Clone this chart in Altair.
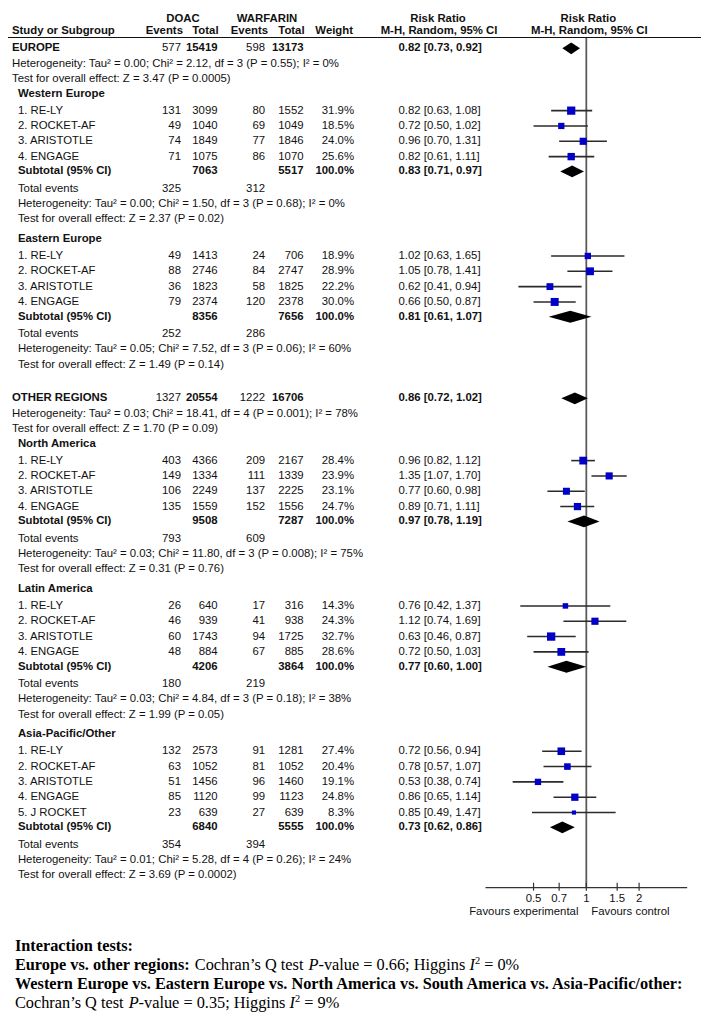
import altair as alt
import pandas as pd

# ---------------- data ----------------
names4 = ["1. RE-LY", "2. ROCKET-AF", "3. ARISTOTLE", "4. ENGAGE"]
names5 = ["1. RE-LY", "2. ROCKET-AF", "3. ARISTOTLE", "4. ENGAGE", "5. J ROCKET"]

# Western Europe
we_doac_ev = [131, 49, 74, 71]
we_doac_n = [3099, 1040, 1849, 1075]
we_warf_ev = [80, 69, 77, 86]
we_warf_n = [1552, 1049, 1846, 1070]
we_weight = [31.9, 18.5, 24.0, 25.6]
we_rr = [0.82, 0.72, 0.96, 0.82]
we_lo = [0.63, 0.50, 0.70, 0.61]
we_hi = [1.08, 1.02, 1.31, 1.11]
we_sub = [7063, 5517, 0.83, 0.71, 0.97]
we_events = [325, 312]
we_het = ["0.00", "1.50", 3, "0.68", 0]
we_z = ["2.37", "0.02"]

# Eastern Europe
ee_doac_ev = [49, 88, 36, 79]
ee_doac_n = [1413, 2746, 1823, 2374]
ee_warf_ev = [24, 84, 58, 120]
ee_warf_n = [706, 2747, 1825, 2378]
ee_weight = [18.9, 28.9, 22.2, 30.0]
ee_rr = [1.02, 1.05, 0.62, 0.66]
ee_lo = [0.63, 0.78, 0.41, 0.50]
ee_hi = [1.65, 1.41, 0.94, 0.87]
ee_sub = [8356, 7656, 0.81, 0.61, 1.07]
ee_events = [252, 286]
ee_het = ["0.05", "7.52", 3, "0.06", 60]
ee_z = ["1.49", "0.14"]

# North America
na_doac_ev = [403, 149, 106, 135]
na_doac_n = [4366, 1334, 2249, 1559]
na_warf_ev = [209, 111, 137, 152]
na_warf_n = [2167, 1339, 2225, 1556]
na_weight = [28.4, 23.9, 23.1, 24.7]
na_rr = [0.96, 1.35, 0.77, 0.89]
na_lo = [0.82, 1.07, 0.60, 0.71]
na_hi = [1.12, 1.70, 0.98, 1.11]
na_sub = [9508, 7287, 0.97, 0.78, 1.19]
na_events = [793, 609]
na_het = ["0.03", "11.80", 3, "0.008", 75]
na_z = ["0.31", "0.76"]

# Latin America
la_doac_ev = [26, 46, 60, 48]
la_doac_n = [640, 939, 1743, 884]
la_warf_ev = [17, 41, 94, 67]
la_warf_n = [316, 938, 1725, 885]
la_weight = [14.3, 24.3, 32.7, 28.6]
la_rr = [0.76, 1.12, 0.63, 0.72]
la_lo = [0.42, 0.74, 0.46, 0.50]
la_hi = [1.37, 1.69, 0.87, 1.03]
la_sub = [4206, 3864, 0.77, 0.60, 1.00]
la_events = [180, 219]
la_het = ["0.03", "4.84", 3, "0.18", 38]
la_z = ["1.99", "0.05"]

# Asia-Pacific/Other
ap_doac_ev = [132, 63, 51, 85, 23]
ap_doac_n = [2573, 1052, 1456, 1120, 639]
ap_warf_ev = [91, 81, 96, 99, 27]
ap_warf_n = [1281, 1052, 1460, 1123, 639]
ap_weight = [27.4, 20.4, 19.1, 24.8, 8.3]
ap_rr = [0.72, 0.78, 0.53, 0.86, 0.85]
ap_lo = [0.56, 0.57, 0.38, 0.65, 0.49]
ap_hi = [0.94, 1.07, 0.74, 1.14, 1.47]
ap_sub = [6840, 5555, 0.73, 0.62, 0.86]
ap_events = [354, 394]
ap_het = ["0.01", "5.28", 4, "0.26", 24]
ap_z = ["3.69", "0.0002"]

# Top-level groups
eu_top = [577, 15419, 598, 13173, 0.82, 0.73, 0.92]
eu_het = ["0.00", "2.12", 3, "0.55", 0]
eu_z = ["3.47", "0.0005"]
oth_top = [1327, 20554, 1222, 16706, 0.86, 0.72, 1.02]
oth_het = ["0.03", "18.41", 4, "0.001", 78]
oth_z = ["1.70", "0.09"]

# Axis
axis_domain = [0.266, 3.76]
tick_values = [0.5, 0.7, 1, 1.5, 2]
tick_labels = ["0.5", "0.7", "1", "1.5", "2"]
null_effect = [1]

# ---------------- styles / layout ----------------
SANS = "Liberation Sans"
SERIF = "Liberation Serif"
FS = 11.5
BLUE = "#0000c8"
OX, OY = 8, 8


def X(px):
    return px - OX


def YV(py):
    return py - OY


G_LINE = 15.5
G_STUDY = 15.5
G_FIRST = 17.0
G_SUB = 15.0
G_TE = 17.5
G_HDR = 20.0
G_HDR_TOP = 15.0
G_BLANK = 34.0
DIAM_H = 6.0


def mk_sub(name, names, dev, dn, wev, wn, w, rr, lo, hi, sub, ev, het, z):
    return dict(name=name, names=names, dev=dev, dn=dn, wev=wev, wn=wn, w=w,
                rr=rr, lo=lo, hi=hi, sub=sub, ev=ev, het=het, z=z)


we = mk_sub("Western Europe", names4, we_doac_ev, we_doac_n, we_warf_ev, we_warf_n, we_weight,
            we_rr, we_lo, we_hi, we_sub, we_events, we_het, we_z)
ee = mk_sub("Eastern Europe", names4, ee_doac_ev, ee_doac_n, ee_warf_ev, ee_warf_n, ee_weight,
            ee_rr, ee_lo, ee_hi, ee_sub, ee_events, ee_het, ee_z)
na = mk_sub("North America", names4, na_doac_ev, na_doac_n, na_warf_ev, na_warf_n, na_weight,
            na_rr, na_lo, na_hi, na_sub, na_events, na_het, na_z)
la = mk_sub("Latin America", names4, la_doac_ev, la_doac_n, la_warf_ev, la_warf_n, la_weight,
            la_rr, la_lo, la_hi, la_sub, la_events, la_het, la_z)
ap = mk_sub("Asia-Pacific/Other", names5, ap_doac_ev, ap_doac_n, ap_warf_ev, ap_warf_n, ap_weight,
            ap_rr, ap_lo, ap_hi, ap_sub, ap_events, ap_het, ap_z)

groups = [("EUROPE", eu_top, eu_het, eu_z, [we, ee]),
          ("OTHER REGIONS", oth_top, oth_het, oth_z, [na, la, ap])]


def het_text(h):
    return f"Heterogeneity: Tau\u00b2 = {h[0]}; Chi\u00b2 = {h[1]}, df = {h[2]} (P = {h[3]}); I\u00b2 = {h[4]}%"


def z_text(z):
    return f"Test for overall effect: Z = {z[0]} (P = {z[1]})"


def rr_text(e, l, h):
    return f"{e:.2f} [{l:.2f}, {h:.2f}]"


cells, squares, cis, diamonds = [], [], [], []


def cell(y, col, text, bold=False):
    cells.append(dict(ypos=y, col=col, text=str(text), bold="b" if bold else "n"))


def diamond(y, est, lo, hi, key):
    diamonds.extend([dict(id=key, rr=lo, yt=y, yb=y),
                     dict(id=key, rr=est, yt=y - DIAM_H, yb=y + DIAM_H),
                     dict(id=key, rr=hi, yt=y, yb=y)])


y = 43.0
for gi, (gname, top, het, z, subs) in enumerate(groups):
    if gi > 0:
        y += G_BLANK
    cell(y, "c0", gname, True)
    cell(y, "e1", top[0])
    cell(y, "t1", top[1], True)
    cell(y, "e2", top[2])
    cell(y, "t2", top[3], True)
    cell(y, "rr", rr_text(*top[4:7]), True)
    diamond(y, top[4], top[5], top[6], gname)
    y += G_LINE
    cell(y, "c0", het_text(het))
    y += G_LINE
    cell(y, "c0", z_text(z))
    for si, sg in enumerate(subs):
        y += G_HDR_TOP if si == 0 else G_HDR
        cell(y, "c1", sg["name"], True)
        for k, nm in enumerate(sg["names"]):
            y += G_FIRST if k == 0 else G_STUDY
            cell(y, "c1", nm)
            cell(y, "e1", sg["dev"][k])
            cell(y, "t1", sg["dn"][k])
            cell(y, "e2", sg["wev"][k])
            cell(y, "t2", sg["wn"][k])
            cell(y, "wt", f"{sg['w'][k]:.1f}%")
            cell(y, "rr", rr_text(sg["rr"][k], sg["lo"][k], sg["hi"][k]))
            squares.append(dict(ypos=y, rr=sg["rr"][k], weight=sg["w"][k]))
            cis.append(dict(ypos=y, lo=sg["lo"][k], hi=sg["hi"][k]))
        y += G_SUB
        s = sg["sub"]
        cell(y, "c1", "Subtotal (95% CI)", True)
        cell(y, "t1", s[0], True)
        cell(y, "t2", s[1], True)
        cell(y, "wt", "100.0%", True)
        cell(y, "rr", rr_text(s[2], s[3], s[4]), True)
        diamond(y, s[2], s[3], s[4], sg["name"])
        y += G_TE
        cell(y, "c1", "Total events")
        cell(y, "e1", sg["ev"][0])
        cell(y, "e2", sg["ev"][1])
        y += G_LINE
        cell(y, "c1", het_text(sg["het"]))
        y += G_LINE
        cell(y, "c1", z_text(sg["z"]))

cells_df = pd.DataFrame(cells)
sq_df = pd.DataFrame(squares)
ci_df = pd.DataFrame(cis)
dia_df = pd.DataFrame(diamonds)

YSC = alt.Scale(domain=[OY, 1018], range=[0, 1010], nice=False, zero=False)
XSC = alt.Scale(type="log", domain=axis_domain, range=[X(491), X(695)], nice=False)
YENC = alt.Y("ypos:Q", scale=YSC, axis=None)

layers = []

# forest marks first (they define the shared scales)
ref_df = pd.DataFrame({"v": null_effect})
layers.append(alt.Chart(ref_df).mark_rule(color="#5a5a5a", strokeWidth=1.8).encode(
    x=alt.X("v:Q", scale=XSC, axis=None), y=alt.value(YV(32)), y2=alt.value(YV(892))))

layers.append(alt.Chart(ci_df).mark_rule(color="#2b2b2b", strokeWidth=1.6).encode(
    x=alt.X("lo:Q", scale=XSC, axis=None), x2="hi:Q", y=YENC))

layers.append(alt.Chart(sq_df).mark_square(color=BLUE, opacity=1, filled=True).encode(
    x=alt.X("rr:Q", scale=XSC, axis=None), y=YENC,
    size=alt.Size("weight:Q", scale=alt.Scale(domain=[0, 35], range=[0, 76]), legend=None)))

layers.append(alt.Chart(dia_df).mark_area(color="black", opacity=1, orient="vertical").encode(
    x=alt.X("rr:Q", scale=XSC, axis=None),
    y=alt.Y("yt:Q", scale=YSC, axis=None), y2="yb:Q", detail="id:N"))

# manual axis
ax_df = pd.DataFrame({"a": [axis_domain[0]], "b": [axis_domain[1]]})
layers.append(alt.Chart(ax_df).mark_rule(color="#333", strokeWidth=1.3).encode(
    x=alt.X("a:Q", scale=XSC, axis=None), x2="b:Q", y=alt.value(YV(892))))
tk_df = pd.DataFrame({"v": tick_values, "lab": tick_labels})
layers.append(alt.Chart(tk_df).mark_rule(color="#333", strokeWidth=1.2).encode(
    x=alt.X("v:Q", scale=XSC, axis=None), y=alt.value(YV(887)), y2=alt.value(YV(895))))
layers.append(alt.Chart(tk_df).mark_text(font=SANS, fontSize=FS, baseline="middle", color="#111").encode(
    x=alt.X("v:Q", scale=XSC, axis=None), y=alt.value(YV(903)), text="lab:N"))

# table text columns: key -> (x px, align)
columns = {
    "c0": (12, "left"), "c1": (18, "left"),
    "e1": (183, "right"), "t1": (220, "right"),
    "e2": (268, "right"), "t2": (307, "right"),
    "wt": (358, "right"), "rr": (403, "left"),
}
for key, (px, al) in columns.items():
    for b in ["n", "b"]:
        sub_df = cells_df[(cells_df["col"] == key) & (cells_df["bold"] == b)]
        if sub_df.empty:
            continue
        layers.append(
            alt.Chart(sub_df).mark_text(align=al, baseline="middle", font=SANS, fontSize=FS,
                                        fontWeight="bold" if b == "b" else "normal", color="#111")
            .encode(x=alt.value(X(px)), y=YENC, text="text:N")
        )

# headers
hdr_text = ["DOAC", "WARFARIN", "Risk Ratio", "Risk Ratio",
            "Study or Subgroup", "Events", "Total", "Events", "Total", "Weight",
            "M-H, Random, 95% CI", "M-H, Random, 95% CI"]
hdr_pos = [(185, 13, "center"), (270, 13, "center"), (443, 13, "center"), (595, 13, "center"),
           (12, 25, "left"), (185, 25, "right"), (221, 25, "right"), (271, 25, "right"),
           (308, 25, "right"), (357, 25, "right"), (444, 25, "center"), (596, 25, "center")]
one = pd.DataFrame({"k": [0]})
for t, (hx, hy, al) in zip(hdr_text, hdr_pos):
    layers.append(alt.Chart(one).mark_text(align=al, baseline="middle", font=SANS, fontSize=FS,
                                           fontWeight="bold", color="#111", text=t)
                  .encode(x=alt.value(X(hx)), y=alt.value(YV(hy))))

# header rule
layers.append(alt.Chart(one).mark_rule(color="#111", strokeWidth=1.2)
              .encode(x=alt.value(0), x2=alt.value(701), y=alt.value(YV(32))))

layers.append(alt.Chart(one).mark_text(font=SANS, fontSize=FS, baseline="middle", align="right",
                                       color="#111", text="Favours experimental")
              .encode(x=alt.value(X(585)), y=alt.value(YV(917))))
layers.append(alt.Chart(one).mark_text(font=SANS, fontSize=FS, baseline="middle", align="left",
                                       color="#111", text="Favours control")
              .encode(x=alt.value(X(598)), y=alt.value(YV(917))))

# ---------------- interaction tests (serif) ----------------
TR = {" ": 250, "C": 667, "o": 500, "c": 444, "h": 500, "r": 333, "a": 444, "n": 500, "\u2019": 333,
      "s": 389, "Q": 722, "t": 278, "e": 444, "-": 333, "v": 500, "l": 278, "u": 500, "=": 564,
      ".": 250, ";": 278, "H": 722, "i": 278, "g": 500, "%": 833}
TB = {" ": 250, "E": 667, "u": 556, "r": 444, "o": 500, "p": 556, "e": 444, "v": 500, "s": 389,
      ".": 250, "t": 333, "h": 556, "g": 500, "i": 278, "n": 556, ":": 333}
TI = {" ": 250, "P": 611, "I": 333}
SFS = 16.5
SUPFS = 10.5


def tw(s, table, fs):
    return sum(table.get(ch, 500) for ch in s) * fs / 1000.0


line2 = [("Europe vs. other regions:", "b"), (" Cochran\u2019s Q test ", "r"), ("P", "i"),
         ("-value = 0.66; Higgins ", "r"), ("I", "i"), ("2", "sup"), (" = 0%", "r")]
line4 = [("Cochran\u2019s Q test ", "r"), ("P", "i"), ("-value = 0.35; Higgins ", "r"),
         ("I", "i"), ("2", "sup"), (" = 9%", "r")]

pieces = [("Interaction tests:", "b", 15.0, 951),
          ("Western Europe vs. Eastern Europe vs. North America vs. South America vs. Asia-Pacific/other:",
           "b", 15.0, 990)]
for ln, ly in [(line2, 970.5), (line4, 1009)]:
    cx = 15.0
    for txt, st in ln:
        tab = TB if st == "b" else TI if st == "i" else TR
        fs = SUPFS if st == "sup" else SFS
        lead = len(txt) - len(txt.lstrip(" "))
        pieces.append((txt.strip(), st, cx + lead * 250 * fs / 1000.0, ly))
        cx += tw(txt, tab, fs)

for txt, st, px, py in pieces:
    fs = SUPFS if st == "sup" else SFS
    yy = py - 4.5 if st == "sup" else py
    layers.append(alt.Chart(one).mark_text(
        font=SERIF, fontSize=fs, baseline="middle", align="left", color="#000", text=txt,
        fontWeight="bold" if st == "b" else "normal",
        fontStyle="italic" if st == "i" else "normal")
        .encode(x=alt.value(X(px)), y=alt.value(YV(yy))))

chart = alt.layer(*layers).properties(
    width=701, height=1010,
    autosize=alt.AutoSizeParams(type="none"),
    padding=0, background="white",
).configure_view(stroke=None)

chart.save("out.html", embed_options={"renderer": "svg", "actions": False})
